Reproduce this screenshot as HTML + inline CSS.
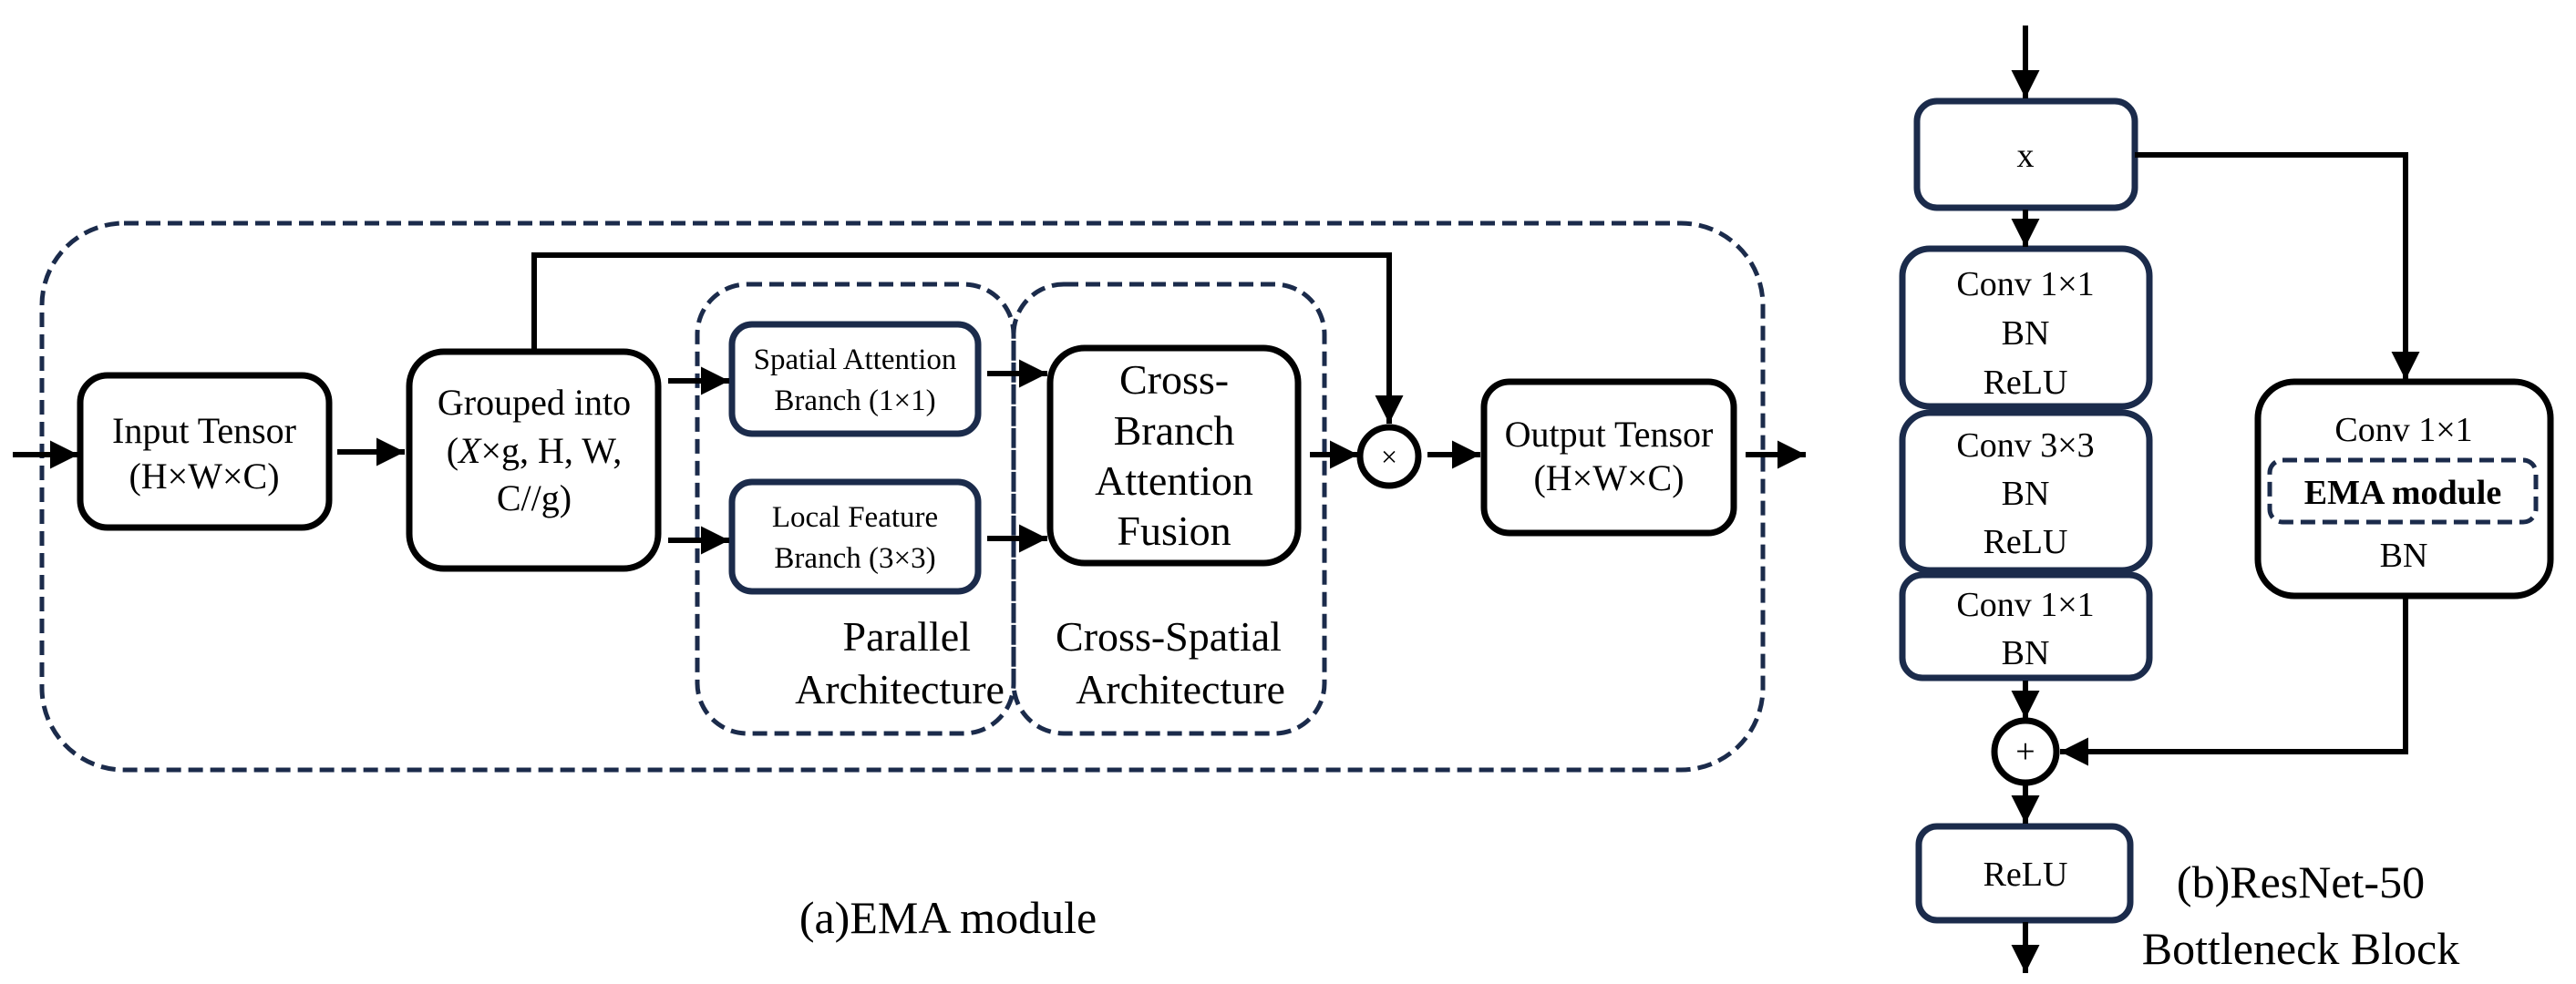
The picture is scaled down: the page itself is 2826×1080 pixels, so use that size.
<!DOCTYPE html>
<html><head><meta charset="utf-8"><style>
html,body{margin:0;padding:0;background:#fff;}
svg{display:block;}
svg text{font-family:"Liberation Serif","Times New Roman",serif !important;fill:#000;}
</style></head><body>
<svg width="2826" height="1080" viewBox="0 0 2826 1080" xmlns="http://www.w3.org/2000/svg" font-family="Liberation Serif, serif">
<defs>
<marker id="ah" viewBox="0 0 10 10" refX="10" refY="5" markerWidth="5.2" markerHeight="5.2" orient="auto" markerUnits="strokeWidth">
<path d="M0,0 L10,5 L0,10 z" fill="#000"/>
</marker>
</defs>
<g fill="none" stroke="#1b2b4b" stroke-width="5" stroke-dasharray="16 8">
<rect x="46" y="245" width="1888" height="600" rx="90"/>
<rect x="765" y="312" width="347" height="493" rx="55"/>
<rect x="1112" y="312" width="341" height="493" rx="55"/>
<rect x="2490" y="505" width="292" height="68" rx="14"/>
</g>
<g fill="none" stroke="#000" stroke-width="7">
<rect x="88" y="412" width="273" height="167" rx="30"/>
<rect x="449" y="386" width="273" height="238" rx="38"/>
<rect x="1152" y="382" width="272" height="236" rx="38"/>
<rect x="1628" y="419" width="274" height="166" rx="28"/>
<circle cx="1524" cy="501" r="32"/>
<rect x="2477" y="419" width="321" height="235" rx="40"/>
<circle cx="2222" cy="825" r="34"/>
</g>
<g fill="none" stroke="#1b2b4b" stroke-width="7">
<rect x="803" y="356" width="270" height="120" rx="22"/>
<rect x="803" y="529" width="270" height="120" rx="22"/>
<rect x="2103" y="111" width="239" height="117" rx="22"/>
<rect x="2087" y="273" width="271" height="173" rx="30"/>
<rect x="2087" y="453" width="271" height="173" rx="30"/>
<rect x="2087" y="631" width="271" height="113" rx="22"/>
<rect x="2105" y="907" width="232" height="103" rx="20"/>
</g>
<g fill="none" stroke="#000" stroke-width="6" marker-end="url(#ah)">
<line x1="14" y1="499" x2="86" y2="499"/>
<line x1="370" y1="496" x2="444" y2="496"/>
<line x1="733" y1="418" x2="800" y2="418"/>
<line x1="733" y1="593" x2="800" y2="593"/>
<line x1="1083" y1="410" x2="1149" y2="410"/>
<line x1="1083" y1="591" x2="1149" y2="591"/>
<line x1="1437" y1="499" x2="1490" y2="499"/>
<line x1="1566" y1="499" x2="1624" y2="499"/>
<line x1="1915" y1="499" x2="1981" y2="499"/>
<polyline points="586,386 586,280 1524,280 1524,465"/>
<line x1="2222" y1="28" x2="2222" y2="108"/>
<line x1="2222" y1="230" x2="2222" y2="271"/>
<line x1="2222" y1="747" x2="2222" y2="789"/>
<line x1="2222" y1="861" x2="2222" y2="904"/>
<line x1="2222" y1="1012" x2="2222" y2="1068"/>
<polyline points="2342,170 2639,170 2639,417"/>
<polyline points="2639,654 2639,825 2260,825"/>
</g>
<g font-size="40" text-anchor="middle">
<text x="224" y="486">Input Tensor</text>
<text x="224" y="536">(H×W×C)</text>
<text x="586" y="455">Grouped into</text>
<text x="586" y="508">(<tspan font-style="italic">X</tspan>×g, H, W,</text>
<text x="586" y="560">C//g)</text>
<text x="1765" y="490">Output Tensor</text>
<text x="1765" y="538">(H×W×C)</text>
</g>
<g font-size="33" text-anchor="middle">
<text x="938" y="405">Spatial Attention</text>
<text x="938" y="450">Branch (1×1)</text>
<text x="938" y="578">Local Feature</text>
<text x="938" y="623">Branch (3×3)</text>
</g>
<g font-size="46" text-anchor="middle">
<text x="1288" y="432">Cross-</text>
<text x="1288" y="488">Branch</text>
<text x="1288" y="543">Attention</text>
<text x="1288" y="598">Fusion</text>
<text x="1065" y="714" text-anchor="end">Parallel</text>
<text x="987" y="772">Architecture</text>
<text x="1282" y="714">Cross-Spatial</text>
<text x="1295" y="772">Architecture</text>
</g>
<text x="1524" y="512" font-size="32" text-anchor="middle">×</text>
<text x="2222" y="837" font-size="38" text-anchor="middle">+</text>
<text x="1040" y="1024" font-size="50" text-anchor="middle">(a)EMA module</text>
<g font-size="38" text-anchor="middle">
<text x="2222" y="183">x</text>
<text x="2222" y="324">Conv 1×1</text>
<text x="2222" y="378">BN</text>
<text x="2222" y="432">ReLU</text>
<text x="2222" y="501">Conv 3×3</text>
<text x="2222" y="554">BN</text>
<text x="2222" y="607">ReLU</text>
<text x="2222" y="676">Conv 1×1</text>
<text x="2222" y="729">BN</text>
<text x="2222" y="972">ReLU</text>
<text x="2637" y="484">Conv 1×1</text>
<text x="2636" y="553" font-weight="bold">EMA module</text>
<text x="2637" y="622">BN</text>
</g>
<g font-size="50" text-anchor="middle">
<text x="2524" y="985">(b)ResNet-50</text>
<text x="2524" y="1058">Bottleneck Block</text>
</g>
</svg>
</body></html>
